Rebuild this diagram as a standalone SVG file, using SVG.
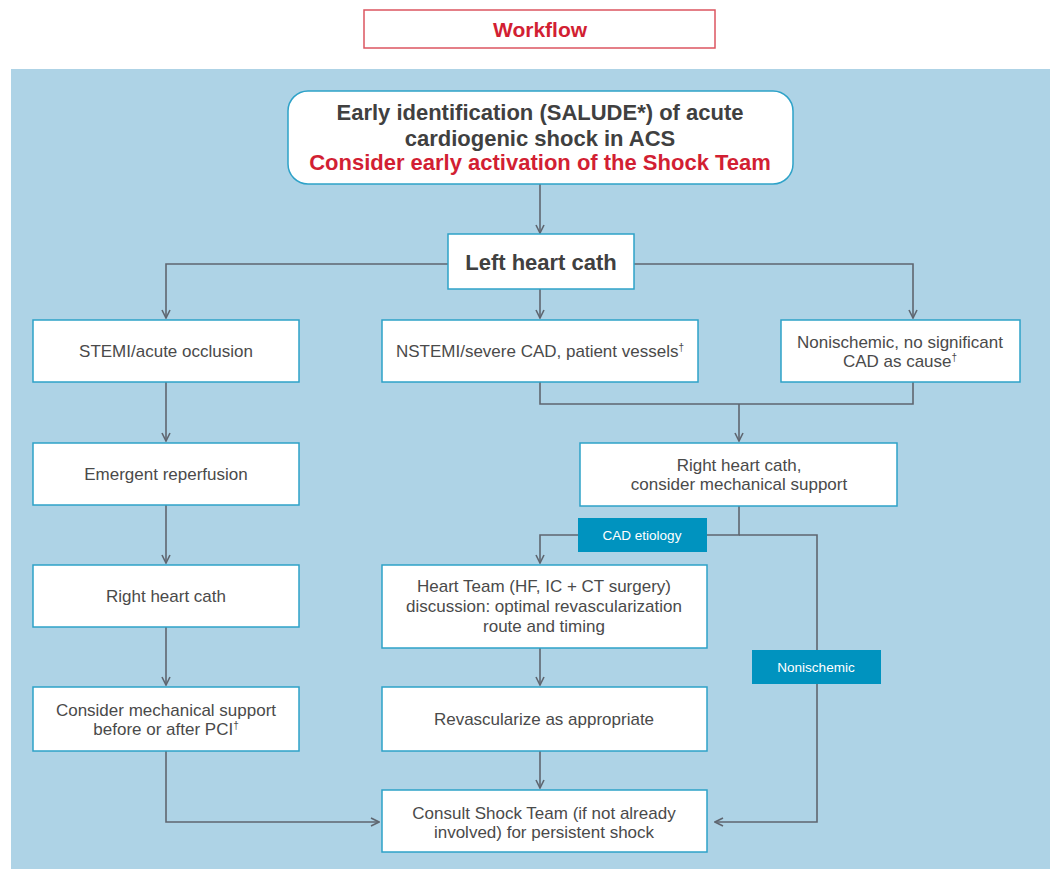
<svg xmlns="http://www.w3.org/2000/svg" width="1050" height="869" viewBox="0 0 1050 869">
<defs>
<style>
.bg{fill:#aed3e6}
.box{fill:#ffffff;stroke:#2ea2c8;stroke-width:1.5}
.lbl{fill:#0093bf}
.t{font-family:"Liberation Sans",Arial,sans-serif;font-size:17px;fill:#4a4a4a;text-anchor:middle}
.h{font-family:"Liberation Sans",Arial,sans-serif;font-size:22px;font-weight:bold;fill:#404040;text-anchor:middle}
.red{fill:#d21f33}
.lt{font-family:"Liberation Sans",Arial,sans-serif;font-size:13.5px;fill:#ffffff;text-anchor:middle}
.sup{font-size:10px}
.c{fill:none;stroke:#5f6670;stroke-width:1.6}
</style>
<marker id="arr" viewBox="0 0 10 10" refX="9" refY="5" markerWidth="10" markerHeight="10" markerUnits="userSpaceOnUse" orient="auto">
<path d="M1,1 L9,5 L1,9" fill="none" stroke="#5f6670" stroke-width="1.6"/>
</marker>
</defs>
<rect x="0" y="0" width="1050" height="869" fill="#ffffff"/>
<g id="title">
<rect x="364" y="10" width="351" height="38" fill="#ffffff" stroke="#dc5560" stroke-width="1.5"/>
<text x="540" y="37" class="h red" style="font-size:21px">Workflow</text>
</g>
<rect class="bg" x="11" y="69" width="1039" height="800"/>
<g id="connectors">
<path class="c" d="M540,184 V233" marker-end="url(#arr)"/>
<path class="c" d="M448,264 H166 V318" marker-end="url(#arr)"/>
<path class="c" d="M634,264 H913 V318" marker-end="url(#arr)"/>
<path class="c" d="M540,289 V318" marker-end="url(#arr)"/>
<path class="c" d="M540,382 V404 H913 V382"/>
<path class="c" d="M739,404 V441" marker-end="url(#arr)"/>
<path class="c" d="M166,382 V441" marker-end="url(#arr)"/>
<path class="c" d="M166,505 V563" marker-end="url(#arr)"/>
<path class="c" d="M166,627 V685" marker-end="url(#arr)"/>
<path class="c" d="M739,506 V535 H540 V563" marker-end="url(#arr)"/>
<path class="c" d="M739,535 H817 V822 H715" marker-end="url(#arr)"/>
<path class="c" d="M540,648 V685" marker-end="url(#arr)"/>
<path class="c" d="M540,751 V788" marker-end="url(#arr)"/>
<path class="c" d="M166,751 V822 H379" marker-end="url(#arr)"/>
</g>
<g id="n-start">
<rect class="box" x="288" y="91" width="505" height="93" rx="20"/>
<text class="h" x="540" y="120">Early identification (SALUDE*) of acute</text>
<text class="h" x="540" y="146">cardiogenic shock in ACS</text>
<text class="h red" x="540" y="170">Consider early activation of the Shock Team</text>
</g>
<g id="n-lhc">
<rect class="box" x="448" y="234" width="186" height="55"/>
<text class="h" x="541" y="270">Left heart cath</text>
</g>
<g id="n-stemi">
<rect class="box" x="33" y="320" width="266" height="62"/>
<text class="t" x="166" y="357">STEMI/acute occlusion</text>
</g>
<g id="n-nstemi">
<rect class="box" x="382" y="320" width="316" height="62"/>
<text class="t" x="540" y="357">NSTEMI/severe CAD, patient vessels<tspan class="sup" dy="-6">†</tspan></text>
</g>
<g id="n-nonisch">
<rect class="box" x="781" y="320" width="239" height="62"/>
<text class="t" x="900" y="348">Nonischemic, no significant</text>
<text class="t" x="900" y="367">CAD as cause<tspan class="sup" dy="-6">†</tspan></text>
</g>
<g id="n-emergent">
<rect class="box" x="33" y="443" width="266" height="62"/>
<text class="t" x="166" y="480">Emergent reperfusion</text>
</g>
<g id="n-rhc2">
<rect class="box" x="580" y="443" width="317" height="63"/>
<text class="t" x="739" y="471">Right heart cath,</text>
<text class="t" x="739" y="490">consider mechanical support</text>
</g>
<g id="n-rhc1">
<rect class="box" x="33" y="565" width="266" height="62"/>
<text class="t" x="166" y="602">Right heart cath</text>
</g>
<g id="n-heartteam">
<rect class="box" x="382" y="565" width="325" height="83"/>
<text class="t" x="544" y="592">Heart Team (HF, IC + CT surgery)</text>
<text class="t" x="544" y="612">discussion: optimal revascularization</text>
<text class="t" x="544" y="632">route and timing</text>
</g>
<g id="n-mech">
<rect class="box" x="33" y="687" width="266" height="64"/>
<text class="t" x="166" y="716">Consider mechanical support</text>
<text class="t" x="166" y="735">before or after PCI<tspan class="sup" dy="-6">†</tspan></text>
</g>
<g id="n-revasc">
<rect class="box" x="382" y="687" width="325" height="64"/>
<text class="t" x="544" y="725">Revascularize as appropriate</text>
</g>
<g id="n-consult">
<rect class="box" x="382" y="790" width="325" height="62"/>
<text class="t" x="544" y="819">Consult Shock Team (if not already</text>
<text class="t" x="544" y="838">involved) for persistent shock</text>
</g>
<g id="l-cad">
<rect class="lbl" x="578" y="518" width="129" height="34"/>
<text class="lt" x="642" y="540">CAD etiology</text>
</g>
<g id="l-nonisch">
<rect class="lbl" x="752" y="650" width="129" height="34"/>
<text class="lt" x="816" y="672">Nonischemic</text>
</g>
</svg>
